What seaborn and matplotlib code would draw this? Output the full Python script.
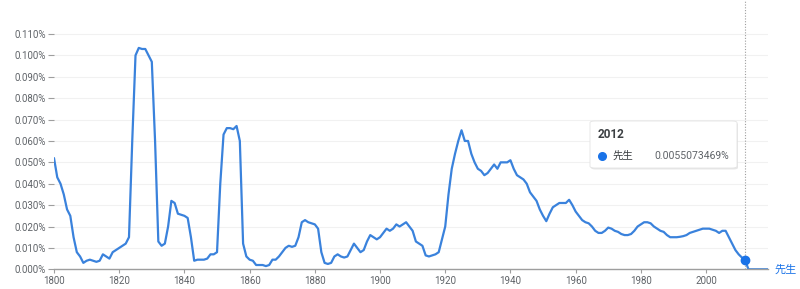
import numpy as np
import pandas as pd
import seaborn as sns
import matplotlib
matplotlib.use("Agg")
import matplotlib.pyplot as plt
from matplotlib.patches import FancyBboxPatch

years = list(range(1800, 2020))
values = [
    # 1800-1809
    0.052, 0.043, 0.040, 0.035, 0.028, 0.025, 0.015, 0.008, 0.006, 0.003,
    # 1810-1819
    0.004, 0.0045, 0.004, 0.0035, 0.004, 0.007, 0.006, 0.005, 0.008, 0.009,
    # 1820-1829
    0.010, 0.011, 0.012, 0.015, 0.060, 0.100, 0.1035, 0.103, 0.103, 0.100,
    # 1830-1839
    0.097, 0.060, 0.013, 0.011, 0.012, 0.020, 0.032, 0.031, 0.026, 0.0255,
    # 1840-1849
    0.025, 0.024, 0.015, 0.004, 0.0045, 0.0045, 0.0045, 0.005, 0.007, 0.007,
    # 1850-1859
    0.008, 0.040, 0.063, 0.066, 0.066, 0.0655, 0.067, 0.060, 0.012, 0.006,
    # 1860-1869
    0.0045, 0.004, 0.002, 0.002, 0.002, 0.0015, 0.002, 0.0045, 0.0045, 0.006,
    # 1870-1879
    0.008, 0.010, 0.011, 0.0105, 0.011, 0.015, 0.022, 0.023, 0.022, 0.0215,
    # 1880-1889
    0.021, 0.019, 0.008, 0.003, 0.0025, 0.003, 0.006, 0.007, 0.006, 0.0055,
    # 1890-1899
    0.006, 0.009, 0.012, 0.010, 0.008, 0.009, 0.013, 0.016, 0.015, 0.014,
    # 1900-1909
    0.015, 0.017, 0.019, 0.018, 0.019, 0.021, 0.020, 0.021, 0.022, 0.020,
    # 1910-1919
    0.018, 0.013, 0.012, 0.011, 0.0065, 0.006, 0.0065, 0.007, 0.008, 0.014,
    # 1920-1929
    0.020, 0.035, 0.047, 0.054, 0.060, 0.065, 0.060, 0.060, 0.054, 0.050,
    # 1930-1939
    0.047, 0.046, 0.044, 0.045, 0.047, 0.049, 0.047, 0.050, 0.050, 0.050,
    # 1940-1949
    0.051, 0.047, 0.044, 0.043, 0.042, 0.040, 0.036, 0.034, 0.032, 0.028,
    # 1950-1959
    0.025, 0.0225, 0.026, 0.029, 0.030, 0.031, 0.031, 0.031, 0.0325, 0.030,
    # 1960-1969
    0.027, 0.025, 0.023, 0.022, 0.0215, 0.020, 0.018, 0.017, 0.017, 0.018,
    # 1970-1979
    0.0195, 0.019, 0.018, 0.0175, 0.0165, 0.016, 0.016, 0.0165, 0.018, 0.020,
    # 1980-1989
    0.021, 0.022, 0.022, 0.0215, 0.020, 0.019, 0.018, 0.0175, 0.016, 0.015,
    # 1990-1999
    0.015, 0.015, 0.0152, 0.0155, 0.016, 0.017, 0.0175, 0.018, 0.0185, 0.019,
    # 2000-2009
    0.019, 0.019, 0.0185, 0.018, 0.017, 0.018, 0.018, 0.015, 0.012, 0.009,
    # 2010-2019
    0.007, 0.0055, 0.0042, 0.0, 0.0, 0.0, 0.0, 0.0, 0.0, 0.0,
]
series_name = "先生"
hover_year = 2012
hover_text = "0.0055073469%"
y_ticks = [0.0, 0.01, 0.02, 0.03, 0.04, 0.05, 0.06, 0.07, 0.08, 0.09, 0.10, 0.11]
x_ticks = [1800, 1820, 1840, 1860, 1880, 1900, 1920, 1940, 1960, 1980, 2000]

df = pd.DataFrame({"year": years, "value": values})

sns.set_style("white")
plt.rcParams['font.family'] = ['Roboto', 'Noto Sans CJK SC', 'DejaVu Sans']

BLUE = "#3a82dc"
GRAY = "#5f6368"

fig = plt.figure(figsize=(8, 2.89), dpi=100)
ax = fig.add_axes([54/800, 19.7/289, (768-54)/800, 269.3/289])

sns.lineplot(data=df, x="year", y="value", ax=ax, color=BLUE, linewidth=1.6)
for ln in ax.get_lines():
    ln.set_solid_joinstyle("round")
    ln.set_solid_capstyle("round")

ax.set_xlim(1800, 2019)
ax.set_ylim(0, 0.1259)
ax.set_yticks(y_ticks)
ax.set_yticklabels([f"{t:.3f}%" for t in y_ticks])
ax.set_xticks(x_ticks)
ax.set_xticklabels([str(t) for t in x_ticks])
ax.set_xlabel("")
ax.set_ylabel("")
ax.grid(axis="y", color="#f1f1f1", linewidth=0.8)
ax.set_axisbelow(True)
for s in ["top", "right", "left"]:
    ax.spines[s].set_visible(False)
ax.spines["bottom"].set_color("#9e9e9e")
ax.spines["bottom"].set_linewidth(1.0)
ax.tick_params(axis="y", length=4, width=0.8, color="#9e9e9e", pad=2,
               labelsize=7, labelcolor=GRAY, left=True)
ax.tick_params(axis="x", length=3, width=0.8, color="#9e9e9e", pad=2,
               labelsize=7, labelcolor=GRAY, bottom=True)

# hover vertical line and point
ax.axvline(hover_year, color="#9e9e9e", linestyle=(0, (1, 1.5)), linewidth=0.8,
           ymin=0, ymax=1)
hv = values[years.index(hover_year)]
ax.plot([hover_year], [hv], marker="o", markersize=6, color="#1a73e8", zorder=5,
        clip_on=False)

# series label at end
ax.text(2021.0, 0.0, series_name, color="#1a73e8", fontsize=8, va="center",
        ha="left", family=['Noto Sans CJK SC', 'DejaVu Sans'], clip_on=False)

# tooltip
shadow = FancyBboxPatch((591/800, 1 - 169.5/289), (147/800), (47/289),
                        boxstyle="round,pad=0,rounding_size=0.006",
                        transform=fig.transFigure, facecolor="#d8d8d8",
                        edgecolor="none", alpha=0.6, zorder=9)
fig.patches.append(shadow)
box = FancyBboxPatch((590/800, 1 - 168/289), (147/800), (47/289),
                     boxstyle="round,pad=0,rounding_size=0.006",
                     transform=fig.transFigure, facecolor="white",
                     edgecolor="#e3e3e3", linewidth=0.6, zorder=10)
fig.patches.append(box)
fig.text(598/800, 1 - 134/289, str(hover_year), fontsize=8.5, fontweight="bold",
         color="#3c4043", va="center", ha="left", zorder=11)
dot = matplotlib.lines.Line2D([601.5/800], [1 - 156/289], marker="o",
                              markersize=5.5, color="#1a73e8", linestyle="none",
                              transform=fig.transFigure, zorder=11)
fig.lines.append(dot)
fig.text(613/800, 1 - 156/289, series_name, fontsize=7.5, color="#3c4043",
         va="center", ha="left", family=['Noto Sans CJK SC', 'DejaVu Sans'],
         zorder=11)
fig.text(729/800, 1 - 156/289, hover_text, fontsize=7.5, color="#5f6368",
         va="center", ha="right", zorder=11)

fig.savefig("out.png", dpi=100)
